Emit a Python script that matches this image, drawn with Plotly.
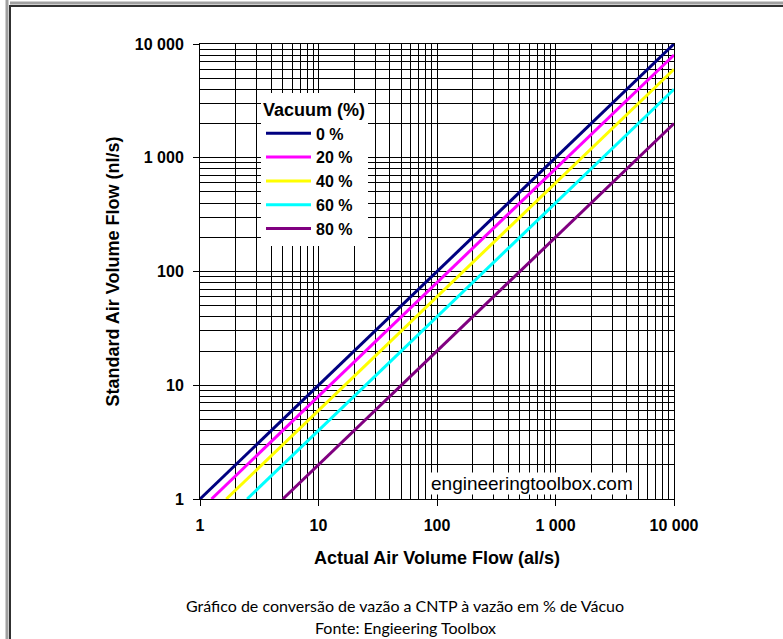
import plotly.graph_objects as go

# ---- data ----
vacuum_labels = ["0 %", "20 %", "40 %", "60 %", "80 %"]
line_colors = ["#000080", "#FF00FF", "#FFFF00", "#00FFFF", "#800080"]
actual_flow_0 = [1, 10000]
standard_flow_0 = [1, 10000]
actual_flow_20 = [1.25, 10000]
standard_flow_20 = [1, 8000]
actual_flow_40 = [1.667, 10000]
standard_flow_40 = [1, 6000]
actual_flow_60 = [2.5, 10000]
standard_flow_60 = [1, 4000]
actual_flow_80 = [5, 10000]
standard_flow_80 = [1, 2000]
tick_values = [1, 10, 100, 1000, 10000]
tick_labels = ["1", "10", "100", "1 000", "10 000"]

series_x = [actual_flow_0, actual_flow_20, actual_flow_40, actual_flow_60, actual_flow_80]
series_y = [standard_flow_0, standard_flow_20, standard_flow_40, standard_flow_60, standard_flow_80]

W, H = 783, 639
L, R, T, B = 200, 674, 44, 499


def px_x(p):
    return (p - L) / (R - L)


def px_y(p):
    return (B - p) / (B - T)


fig = go.Figure()
for name, c, xs, ys in zip(vacuum_labels, line_colors, series_x, series_y):
    fig.add_trace(go.Scatter(x=xs, y=ys, mode="lines", name=name,
                             line=dict(color=c, width=3)))

bold = "Liberation Sans"
axis_common = dict(
    type="log",
    tickvals=tick_values,
    ticktext=tick_labels,
    showgrid=True, gridcolor="black", gridwidth=1,
    minor=dict(dtick="D1", showgrid=True, gridcolor="black", gridwidth=1, ticks=""),
    showline=True, linecolor="black", linewidth=1, mirror=True,
    ticks="outside", ticklen=6, tickcolor="black",
    tickfont=dict(family=bold, size=16, color="black", weight="bold"),
    zeroline=False,
)

fig.update_layout(
    width=W, height=H,
    margin=dict(l=L, r=W - R, t=T, b=H - B, pad=0),
    paper_bgcolor="white", plot_bgcolor="white",
    xaxis=dict(range=[0, 4], **axis_common,
               title=dict(text="Actual Air Volume Flow (al/s)", standoff=18,
                          font=dict(family=bold, size=18, color="black", weight="bold")),
               ticklabelstandoff=6),
    yaxis=dict(range=[0, 4], **axis_common,
               title=dict(text="Standard Air Volume Flow (nl/s)", standoff=10,
                          font=dict(family=bold, size=18, color="black", weight="bold")),
               ticklabelstandoff=6),
    legend=dict(
        x=px_x(261), y=px_y(93), xanchor="left", yanchor="top",
        bgcolor="white", borderwidth=0,
        title=dict(text="Vacuum (%)", font=dict(family=bold, size=18, color="black", weight="bold")),
        font=dict(family=bold, size=16, color="black", weight="bold"),
        itemwidth=45,
    ),
    showlegend=True,
)

# watermark
fig.add_annotation(x=px_x(532), y=px_y(483), xref="paper", yref="paper",
                   xanchor="center", yanchor="middle",
                   text="engineeringtoolbox.com", showarrow=False,
                   font=dict(family="Liberation Sans", size=19, color="black"),
                   bgcolor="white", borderpad=0)

# caption
fig.add_annotation(x=px_x(405), y=px_y(605), xref="paper", yref="paper",
                   xanchor="center", yanchor="middle",
                   text="Gráfico de conversão de vazão a CNTP à vazão em % de Vácuo",
                   showarrow=False, font=dict(family="Lato", size=16, color="black"))
fig.add_annotation(x=px_x(405), y=px_y(627), xref="paper", yref="paper",
                   xanchor="center", yanchor="middle",
                   text="Fonte: Engieering Toolbox",
                   showarrow=False, font=dict(family="Lato", size=16, color="black"))

# page frame
fig.add_shape(type="line", xref="paper", yref="paper", x0=px_x(10), x1=px_x(790),
              y0=px_y(3), y1=px_y(3), line=dict(color="#a0a0a0", width=3))
fig.add_shape(type="line", xref="paper", yref="paper", x0=px_x(10), x1=px_x(790),
              y0=px_y(6), y1=px_y(6), line=dict(color="#303030", width=2))
fig.add_shape(type="line", xref="paper", yref="paper", x0=px_x(7), x1=px_x(7),
              y0=px_y(-5), y1=px_y(645), line=dict(color="#a0a0a0", width=3))
fig.add_shape(type="line", xref="paper", yref="paper", x0=px_x(10), x1=px_x(10),
              y0=px_y(5), y1=px_y(645), line=dict(color="#303030", width=2))

fig.write_html("out.html", config={"displayModeBar": False},
               post_script="document.body.style.margin='0px';")
